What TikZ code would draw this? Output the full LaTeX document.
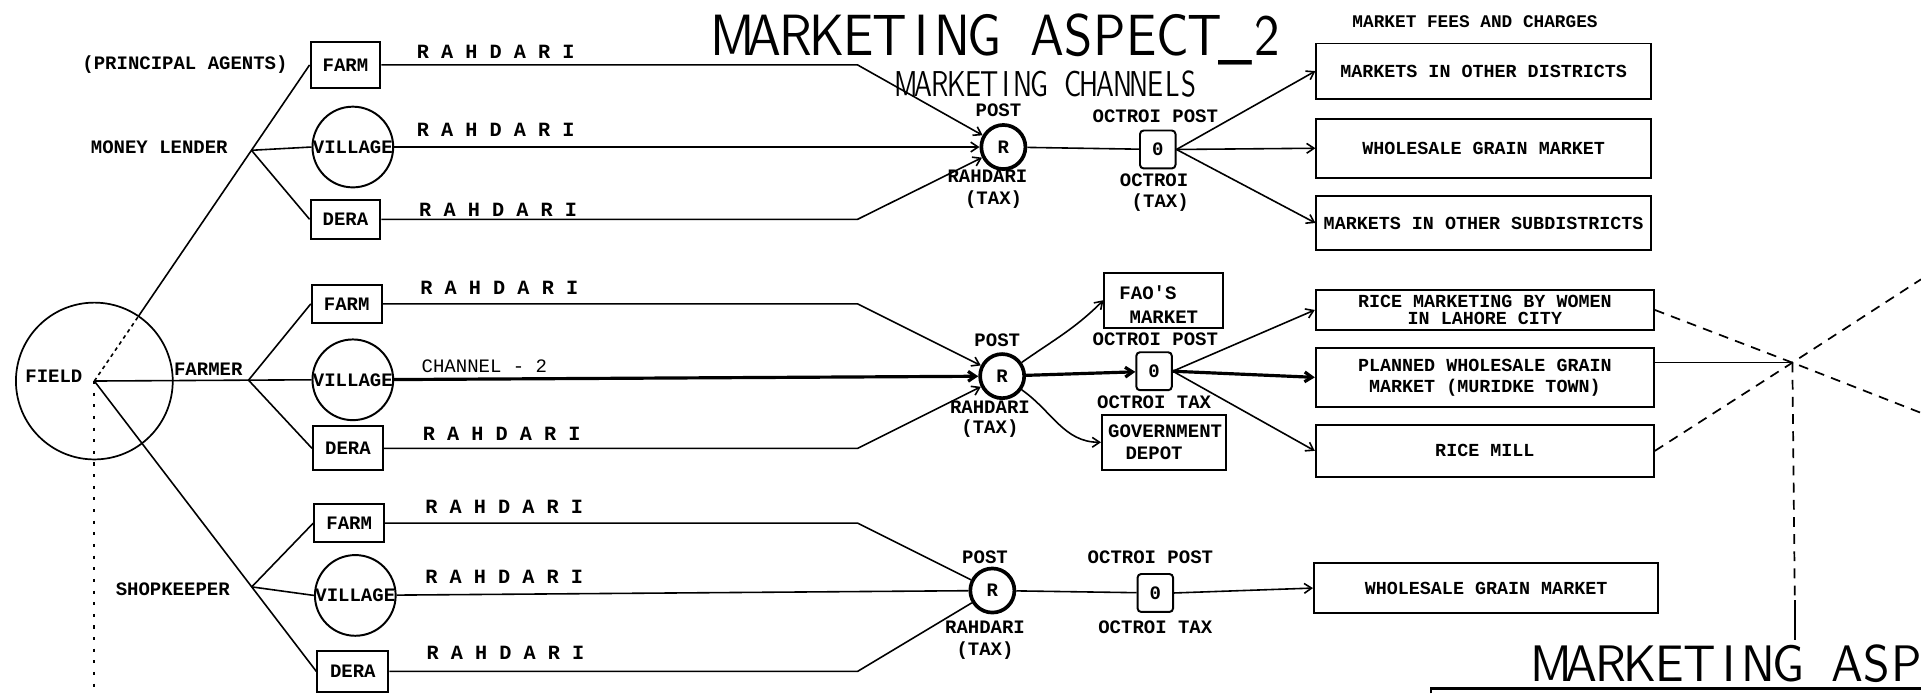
\documentclass[tikz,border=0pt]{standalone}
\usepackage{fontspec}
\usetikzlibrary{arrows.meta,calc}
\newfontfamily\twfont{Liberation Mono}
% fixed-pitch lettering for the stencilled headings
\makeatletter
\newcommand\plottext[1]{\@tfor\pchar:=#1\do{\makebox[0.62em]{\pchar}}}
\makeatother

\tikzset{
  tw/.style={font=\twfont\bfseries\fontsize{15.5}{15.5}\selectfont, inner sep=0pt},
  twlight/.style={font=\twfont\fontsize{15.5}{15.5}\selectfont, inner sep=0pt},
  spaced/.style={font=\twfont\bfseries\fontsize{16.5}{16.5}\selectfont, inner sep=0pt, anchor=west},
  srcbox/.style={draw, line width=1.6pt, tw},
  vilcirc/.style={draw, circle, line width=1.6pt, minimum size=60pt, tw},
  rpost/.style={draw, circle, line width=3pt, minimum size=36pt, tw},
  opost/.style={draw, rounded corners=3pt, line width=1.6pt, minimum width=29pt, minimum height=31pt, tw},
  mkt/.style={draw, line width=1.6pt, inner sep=0pt, align=center,
    font=\twfont\bfseries\fontsize{15}{14}\selectfont},
  heading/.style={anchor=base west, inner sep=0pt},
  flow/.style={line width=1.3pt},
  heavy/.style={line width=2.6pt},
  arr/.style={-{Straight Barb[length=6pt,width=8pt]}},
  guide/.style={line width=1.4pt, dash pattern=on 8pt off 6pt},
}

\begin{document}
\begin{tikzpicture}[x=1pt,y=-1pt]
\fill[white] (0,0) rectangle (1568,566);
\useasboundingbox (0,0) rectangle (1568,566);

% headings
\node[heading] (title) at (585,45) {\resizebox{462pt}{34pt}{\sffamily\addfontfeatures{FakeBold=3}\plottext{MARKETING~ASPECT\_2}}};
\node[heading] (subtitle) at (733,79) {\resizebox{244pt}{21pt}{\sffamily\addfontfeatures{FakeBold=1.5}\plottext{MARKETING~CHANNELS}}};
\node[heading] (nexttitle) at (1254,556) {\resizebox{314pt}{30pt}{\sffamily\addfontfeatures{FakeBold=3}\plottext{MARKETING~ASP}}};
\node[tw, font=\twfont\bfseries\fontsize{14.5}{14.5}\selectfont] (fees) at (1204,18) {MARKET FEES AND CHARGES};

% field and agents
\node[draw, circle, line width=1.4pt, minimum size=128pt] (field) at (77,311) {};
\node[tw] (fieldname) at (44,307) {FIELD};
\node[tw] (principal) at (151,53) {(PRINCIPAL AGENTS)};
\node[tw] (lender) at (130,120) {MONEY LENDER};
\node[tw] (farmer) at (170,301) {FARMER};
\node[tw] (shopkeeper) at (141,481) {SHOPKEEPER};

% assembly points: money lender
\node[srcbox, minimum width=57pt, minimum height=37pt] (farm1) at (282,53) {FARM};
\node[vilcirc] (vil1) at (288,120) {VILLAGE};
\node[srcbox, minimum width=57pt, minimum height=32pt] (dera1) at (282,179) {DERA};
% farmer
\node[srcbox, minimum width=57pt, minimum height=31pt] (farm2) at (283,248) {FARM};
\node[vilcirc] (vil2) at (288,310) {VILLAGE};
\node[srcbox, minimum width=57pt, minimum height=36pt] (dera2) at (284,366) {DERA};
% shopkeeper
\node[srcbox, minimum width=57pt, minimum height=31pt] (farm3) at (285,427) {FARM};
\node[vilcirc] (vil3) at (290,486) {VILLAGE};
\node[srcbox, minimum width=58pt, minimum height=33pt] (dera3) at (288,548) {DERA};

% route labels
\node[spaced] (rd1a) at (340,42) {R A H D A R I};
\node[spaced] (rd1b) at (340,106) {R A H D A R I};
\node[spaced] (rd1c) at (342,171) {R A H D A R I};
\node[spaced] (rd2a) at (343,235) {R A H D A R I};
\node[twlight, anchor=west] (chan2) at (344,299) {CHANNEL - 2};
\node[spaced] (rd2c) at (345,354) {R A H D A R I};
\node[spaced] (rd3a) at (347,414) {R A H D A R I};
\node[spaced] (rd3b) at (347,471) {R A H D A R I};
\node[spaced] (rd3c) at (348,533) {R A H D A R I};

% rahdari posts
\node[rpost] (R1) at (819,120) {R};
\node[rpost] (R2) at (818,307) {R};
\node[rpost] (R3) at (810,482) {R};
\node[tw] (R1top) at (815,90) {POST};
\node[tw] (R1tax) at (806,144) {RAHDARI};
\node[tw] (R1paren) at (811,163) {(TAX)};
\node[tw] (R2top) at (814,278) {POST};
\node[tw] (R2tax) at (808,332) {RAHDARI};
\node[tw] (R2paren) at (808,350) {(TAX)};
\node[tw] (R3top) at (804,455) {POST};
\node[tw] (R3tax) at (804,512) {RAHDARI};
\node[tw] (R3paren) at (804,531) {(TAX)};

% octroi posts
\node[opost] (O1) at (945,122) {0};
\node[opost] (O2) at (942,303) {0};
\node[opost] (O3) at (943,484) {0};
\node[tw] (O1top) at (943,95) {OCTROI POST};
\node[tw] (O1tax) at (942,147) {OCTROI};
\node[tw] (O1paren) at (947,165) {(TAX)};
\node[tw] (O2top) at (943,277) {OCTROI POST};
\node[tw] (O2tax) at (942,328) {OCTROI TAX};
\node[tw] (O3top) at (939,455) {OCTROI POST};
\node[tw] (O3tax) at (943,512) {OCTROI TAX};

% side outlets
\node[mkt, minimum width=97pt, minimum height=45pt] (fao) at (950,245) {};
\node[tw] (faoa) at (937,239) {FAO'S};
\node[tw] (faob) at (950,259) {MARKET};
\node[mkt, minimum width=101pt, minimum height=45pt] (gov) at (950,361) {};
\node[tw] (gova) at (951,352) {GOVERNMENT};
\node[tw] (govb) at (942,370) {DEPOT};

% markets
\node[mkt, minimum width=273pt, minimum height=45pt] (boxA) at (1211,58) {MARKETS IN OTHER DISTRICTS};
\node[mkt, minimum width=273pt, minimum height=48pt] (boxB) at (1211,121) {WHOLESALE GRAIN MARKET};
\node[mkt, minimum width=273pt, minimum height=44pt] (boxC) at (1211,182) {MARKETS IN OTHER SUBDISTRICTS};
\node[mkt, minimum width=276pt, minimum height=33pt] (boxD) at (1212,253) {RICE MARKETING BY WOMEN\\IN LAHORE CITY};
\node[mkt, minimum width=276pt, minimum height=48pt, font=\twfont\bfseries\fontsize{15}{17}\selectfont] (boxE) at (1212,308) {PLANNED WHOLESALE GRAIN\\MARKET (MURIDKE TOWN)};
\node[mkt, minimum width=276pt, minimum height=42pt] (boxF) at (1212,368) {RICE MILL};
\node[mkt, minimum width=281pt, minimum height=41pt] (boxG) at (1213,480) {WHOLESALE GRAIN MARKET};

% field to agents
\coordinate (kink) at (700,0);
\coordinate (mlin) at ($(field.center)!64pt!(farm1.west)$);
\coordinate (mlfork) at ($(field.center)!0.73!(farm1.west)$);
\draw[flow, dashed] (field.center) -- (mlin);
\draw[flow] (mlin) -- (farm1.west);
\draw[flow] (mlfork) -- (vil1.west);
\draw[flow] (mlfork) -- (dera1.west);

\coordinate (fafork) at ($(field.center)!0.71!(vil2.west)$);
\draw[flow] (field.center) -- (vil2.west);
\draw[flow] (fafork) -- (farm2.west);
\draw[flow] (fafork) -- (dera2.west);

\coordinate (shfork) at ($(field.center)!0.709!(dera3.west)$);
\draw[flow] (field.center) -- (dera3.west);
\draw[flow] (shfork) -- (farm3.west);
\draw[flow] (shfork) -- (vil3.west);

\coordinate (fieldfoot) at (77,566);
\draw[line width=1.5pt, dash pattern=on 2.5pt off 7pt] (field.center) -- (fieldfoot);

% money lender channel
\draw[flow, arr] (farm1.east) -- (farm1.east -| kink) -- (R1);
\draw[flow, arr] (vil1) -- (R1);
\draw[flow, arr] (dera1.east) -- (dera1.east -| kink) -- (R1);
\draw[flow] (R1) -- (O1);
\draw[flow, arr] (O1.east) -- (boxA.west);
\draw[flow, arr] (O1.east) -- (boxB.west);
\draw[flow, arr] (O1.east) -- (boxC.west);

% farmer channel
\draw[flow, arr] (farm2.east) -- (farm2.east -| kink) -- (R2);
\draw[heavy, arr] (vil2) -- (R2);
\draw[flow, arr] (dera2.east) -- (dera2.east -| kink) -- (R2);
\draw[heavy, arr] (R2) -- (O2);
\draw[flow, arr] (R2.35) to[out=35, in=225] (fao.west);
\draw[flow, arr] (R2.-35) to[out=-35, in=180] (gov.west);
\draw[flow, arr] (O2.east) -- (boxD.west);
\draw[heavy, arr] (O2.east) -- (boxE.west);
\draw[flow, arr] (O2.east) -- (boxF.west);

% shopkeeper channel
\draw[flow] (farm3.east) -- (farm3.east -| kink) -- (R3);
\draw[flow] (vil3) -- (R3);
\draw[flow] (dera3.east) -- (dera3.east -| kink) -- (R3);
\draw[flow] (R3) -- (O3);
\draw[flow, arr] (O3.east) -- (boxG.west);

% onward links
\coordinate (cross) at (1463,296);
\coordinate (edgeLow) at (1568,337);
\coordinate (edgeHigh) at (1568,228);
\coordinate (dropEnd) at (1465,490);
\coordinate (dropFoot) at (1465,522);
\draw[guide] (boxD.east) -- (cross) -- (edgeLow);
\draw[guide] (boxF.east) -- (cross) -- (edgeHigh);
\draw[flow] (boxE.east |- cross) -- (cross);
\draw[guide] (cross) -- (dropEnd);
\draw[flow] (dropEnd) -- (dropFoot);

% next panel frame
\coordinate (panelStub) at (1168,566);
\coordinate (panelCorner) at (1168,562);
\coordinate (panelEdge) at (1568,562);
\draw[line width=2pt] (panelStub) -- (panelCorner) -- (panelEdge);
\end{tikzpicture}
\end{document}
